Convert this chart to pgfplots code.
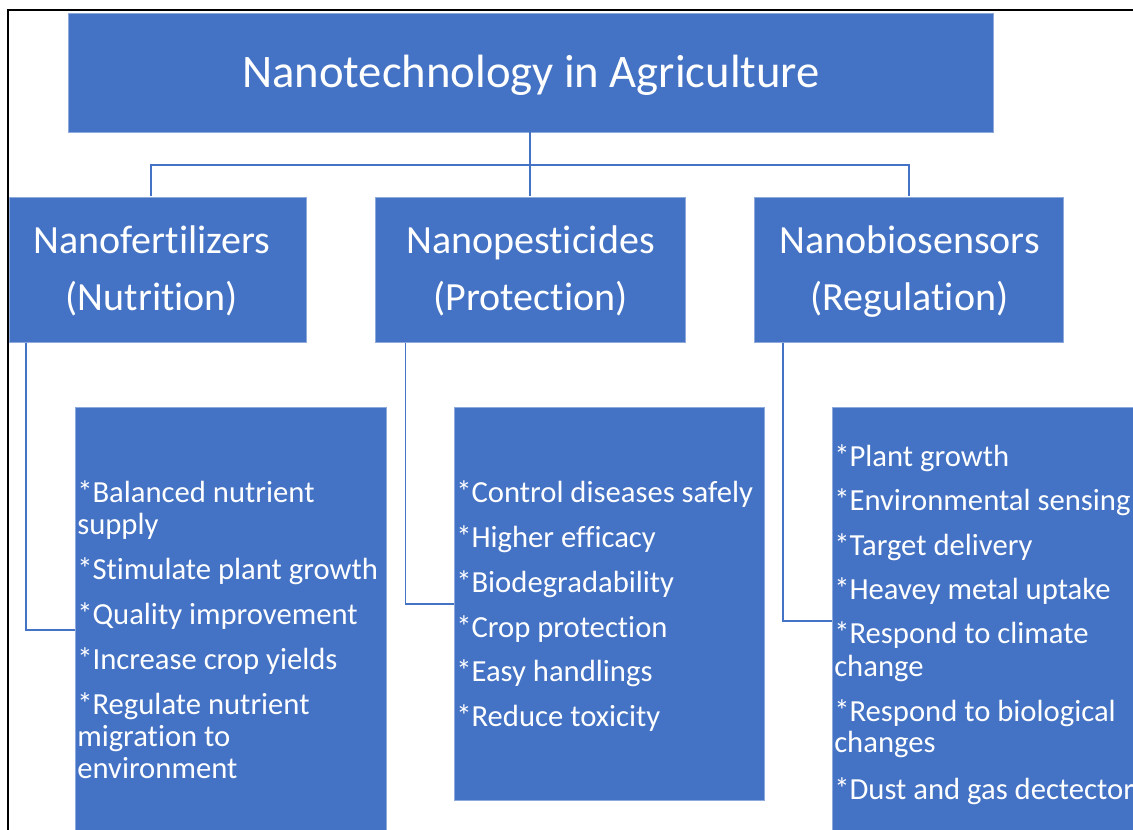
\documentclass[border=0pt]{standalone}
\usepackage{pgfplots}
\pgfplotsset{compat=1.18}
\usepackage{fontspec}
\setmainfont[Ligatures={NoCommon,NoDiscretionary}]{Carlito}
\definecolor{obl}{HTML}{4472C4}
\definecolor{obe}{HTML}{8EA9DB}
\begin{document}
\begin{tikzpicture}
\begin{axis}[x=0.75pt, y=0.75pt, y dir=reverse, xmin=0, xmax=1133, ymin=0, ymax=830,
  hide axis, clip=true, clip mode=global]
\fill[white] (axis cs:0,0) rectangle (axis cs:1133,830);
% boxes
\addplot[fill=obl, draw=obe, line width=0.5pt] coordinates {(68,13) (993,13) (993,132) (68,132)} -- cycle;
\addplot[fill=obl, draw=obe, line width=0.5pt] coordinates {(9,197) (306,197) (306,342) (9,342)} -- cycle;
\addplot[fill=obl, draw=obe, line width=0.5pt] coordinates {(375,197) (685,197) (685,342) (375,342)} -- cycle;
\addplot[fill=obl, draw=obe, line width=0.5pt] coordinates {(754,197) (1063,197) (1063,342) (754,342)} -- cycle;
\addplot[fill=obl, draw=obe, line width=0.5pt] coordinates {(75,407) (386,407) (386,835) (75,835)} -- cycle;
\addplot[fill=obl, draw=obe, line width=0.5pt] coordinates {(454,407) (764,407) (764,800) (454,800)} -- cycle;
\addplot[fill=obl, draw=obe, line width=0.5pt] coordinates {(832,407) (1140,407) (1140,835) (832,835)} -- cycle;
% connectors
\addplot[obl, line width=1.1pt] coordinates {(530,132) (530,196)};
\addplot[obl, line width=1.1pt] coordinates {(151,196) (151,165) (909,165) (909,196)};
\addplot[obl, line width=1.1pt] coordinates {(26,343) (26,630) (75,630)};
\addplot[obl, line width=1.1pt] coordinates {(405.5,343) (405.5,604) (454,604)};
\addplot[obl, line width=1.1pt] coordinates {(783,343) (783,621) (832,621)};
% frame
\addplot[black, line width=0.9pt] coordinates {(8,835) (8,10) (1140,10)};
% title
\node[anchor=base, text=white, inner sep=0pt, font=\fontsize{35}{40}\selectfont] at (axis cs:531,88) {Nanotechnology in Agriculture};
% level 2
\tikzset{lv2/.style={anchor=base, text=white, inner sep=0pt, font=\fontsize{30}{36}\selectfont}}
\node[lv2] at (axis cs:152,254) {Nanofertilizers};
\node[lv2] at (axis cs:152,311) {(Nutrition)};
\node[lv2] at (axis cs:530.5,254) {Nanopesticides};
\node[lv2] at (axis cs:530.5,311) {(Protection)};
\node[lv2] at (axis cs:909.5,254) {Nanobiosensors};
\node[lv2] at (axis cs:909.5,311) {(Regulation)};
% level 3
\tikzset{lv3/.style={anchor=base west, text=white, inner sep=0pt, font=\fontsize{23}{28}\selectfont}}
\node[lv3] at (axis cs:77,503) {*Balanced nutrient};
\node[lv3] at (axis cs:77,534.5) {supply};
\node[lv3] at (axis cs:77,579.7) {*Stimulate plant growth};
\node[lv3] at (axis cs:77,624.7) {*Quality improvement};
\node[lv3] at (axis cs:77,669.7) {*Increase crop yields};
\node[lv3] at (axis cs:77,714.7) {*Regulate nutrient};
\node[lv3] at (axis cs:77,746.3) {migration to};
\node[lv3] at (axis cs:77,778) {environment};
\node[lv3] at (axis cs:456,503) {*Control diseases safely};
\node[lv3] at (axis cs:456,548) {*Higher efficacy};
\node[lv3] at (axis cs:456,593) {*Biodegradability};
\node[lv3] at (axis cs:456,637.3) {*Crop protection};
\node[lv3] at (axis cs:456,681.3) {*Easy handlings};
\node[lv3] at (axis cs:456,726.3) {*Reduce toxicity};
\node[lv3] at (axis cs:834,466.3) {*Plant growth};
\node[lv3] at (axis cs:834,510.3) {*Environmental sensing};
\node[lv3] at (axis cs:834,555.3) {*Target delivery};
\node[lv3] at (axis cs:834,599.7) {*Heavey metal uptake};
\node[lv3] at (axis cs:834,643.7) {*Respond to climate};
\node[lv3] at (axis cs:834,676.3) {change};
\node[lv3] at (axis cs:834,721.3) {*Respond to biological};
\node[lv3] at (axis cs:834,753) {changes};
\node[lv3] at (axis cs:834,799) {*Dust and gas dectector};
\end{axis}
\end{tikzpicture}
\end{document}
